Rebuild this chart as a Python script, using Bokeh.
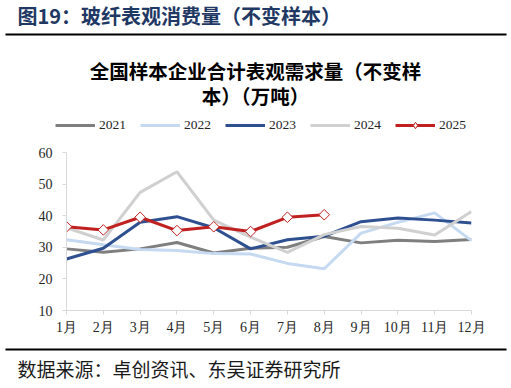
from bokeh.plotting import figure
from bokeh.layouts import column
from bokeh.models import Range1d, FixedTicker, Label, Legend, LegendItem, BoxAnnotation
from bokeh.embed import file_html
from bokeh.resources import INLINE

months = ["1月", "2月", "3月", "4月", "5月", "6月", "7月", "8月", "9月", "10月", "11月", "12月"]
x = list(range(1, 13))
v2021 = [29.5, 28.4, 29.5, 31.5, 28.2, 29.7, 30.0, 33.4, 31.4, 32.2, 31.8, 32.5]
v2022 = [32.4, 30.8, 29.3, 29.0, 28.0, 27.9, 24.9, 23.2, 34.5, 37.9, 40.9, 32.1]
v2023 = [26.3, 29.7, 37.9, 39.7, 36.2, 29.5, 32.4, 33.5, 38.1, 39.3, 38.6, 37.7]
v2024 = [36.2, 32.3, 47.4, 53.9, 38.6, 33.2, 28.4, 34.0, 36.6, 36.0, 33.9, 41.3]
v2025 = [36.5, 35.5, 39.5, 35.3, 36.5, 35.0, 39.5, 40.3]
yticks = [10, 20, 30, 40, 50, 60]
series_labels = ["2021", "2022", "2023", "2024", "2025"]

W = 511
H_TOP, H_MAIN, H_BOT = 136, 202, 50
colors = ["#7f7f7f", "#c5d9f1", "#2f5090", "#d0d0d0", "#c0201f"]
lw = 3
CJK = "Noto Sans CJK SC"


def no_align(f):
    if "frame_align" in f.properties():
        f.frame_align = False


def blank_fig(h):
    f = figure(width=W, height=h, output_backend="svg", toolbar_location=None,
               x_range=Range1d(0, W), y_range=Range1d(h, 0),
               x_axis_type=None, y_axis_type=None, title=None,
               min_border=0, min_border_left=0, min_border_right=0,
               min_border_top=0, min_border_bottom=0)
    f.outline_line_color = None
    f.xgrid.visible = False
    f.ygrid.visible = False
    f.background_fill_color = "white"
    f.border_fill_color = "white"
    no_align(f)
    return f


# ---- top: title, rule, chart title, legend
top = blank_fig(H_TOP)
top.add_layout(Label(x=17, y=15, text="图19：玻纤表观消费量（不变样本）", text_baseline="middle",
                     text_font=CJK, text_font_style="bold",
                     text_font_size="20px", text_color="#1f3864"))
top.add_layout(BoxAnnotation(left=5, right=506, top=33, bottom=35,
                             fill_color="black", fill_alpha=1, line_color=None))
top.add_layout(Label(x=255, y=70, text="全国样本企业合计表观需求量（不变样", text_baseline="middle",
                     text_align="center", text_font=CJK, text_font_style="bold",
                     text_font_size="19.5px", text_color="#000000"))
top.add_layout(Label(x=255, y=95, text="本）（万吨）", text_baseline="middle",
                     text_align="center", text_font=CJK, text_font_style="bold",
                     text_font_size="19.5px", text_color="#000000"))

# legend samples: renderers kept outside the visible range of the top panel
items = []
for lab, c in zip(series_labels, colors):
    rl = top.line([-100, -90], [-50, -50], line_width=lw, line_color=c)
    rs = [rl]
    if lab == "2025":
        rs.append(top.scatter([-95], [-50], marker="diamond", size=9,
                              fill_color="white", line_color=c, line_width=1))
    items.append(LegendItem(label=lab, renderers=rs))
legend = Legend(items=items, orientation="horizontal", location=(55, 3))
legend.glyph_width = 40
legend.glyph_height = 16
legend.label_standoff = 4
legend.spacing = 14
legend.padding = 0
legend.margin = 0
legend.border_line_color = None
legend.background_fill_alpha = 0
legend.label_text_font = "Liberation Serif"
legend.label_text_font_size = "13.5px"
legend.label_text_color = "#262626"
legend.label_height = 16
top.add_layout(legend, "center")

# ---- main chart
p = figure(width=W, height=H_MAIN, output_backend="svg", toolbar_location=None,
           x_range=Range1d(1, 12), y_range=Range1d(10, 60), title=None,
           min_border_left=66, min_border_right=40, min_border_top=16, min_border_bottom=28)
p.outline_line_color = None
p.xgrid.visible = False
p.ygrid.visible = False
p.background_fill_color = "white"
p.border_fill_color = "white"
no_align(p)

for ax in (p.xaxis[0], p.yaxis[0]):
    ax.axis_line_color = "#d9d9d9"
    ax.major_tick_line_color = "#d9d9d9"
    ax.minor_tick_line_color = None
    ax.major_tick_out = 4
    ax.major_tick_in = 0
    ax.major_label_text_font = "Liberation Serif"
    ax.major_label_text_font_size = "14px"
    ax.major_label_text_color = "#262626"

p.yaxis[0].ticker = FixedTicker(ticks=yticks)
p.yaxis[0].major_label_standoff = 10
p.xaxis[0].ticker = FixedTicker(ticks=x)
p.xaxis[0].major_label_overrides = {i: m for i, m in zip(x, months)}
p.xaxis[0].major_label_standoff = 5

for vals, c in zip([v2021, v2022, v2023, v2024, v2025], colors):
    p.line(x[:len(vals)], vals, line_width=lw, line_color=c)
p.scatter(x[:len(v2025)], v2025, marker="square", size=7.5, angle=0.785398,
          fill_color="white", line_color=colors[4], line_width=1)

# ---- bottom: rule and source
bot = blank_fig(H_BOT)
bot.add_layout(BoxAnnotation(left=5, right=506, top=10, bottom=12,
                             fill_color="black", fill_alpha=1, line_color=None))
bot.add_layout(Label(x=17, y=30, text="数据来源：卓创资讯、东吴证券研究所", text_baseline="middle",
                     text_font=CJK, text_font_size="19px", text_color="#1a1a1a"))

layout = column(top, p, bot, spacing=0)
open("out.html", "w").write(file_html(layout, INLINE))
